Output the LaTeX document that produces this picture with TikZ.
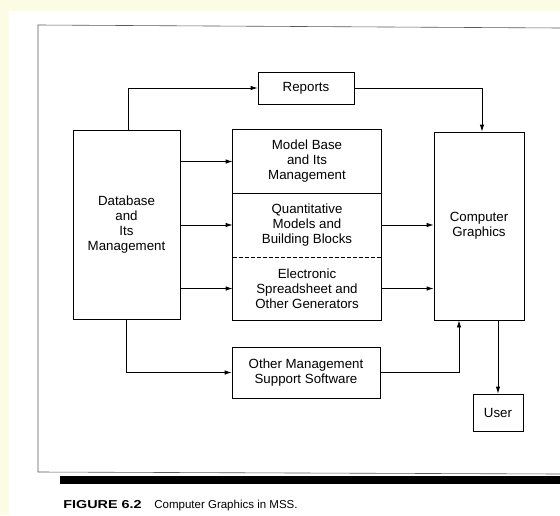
\documentclass[tikz,border=0pt]{standalone}
\usepackage{fontspec}
\setmainfont{Liberation Sans}
\usepackage{graphicx}
\usepackage{tikz}
\usetikzlibrary{arrows.meta}
\definecolor{pagebg}{RGB}{252,252,228}
\definecolor{framegray}{RGB}{90,90,90}

\begin{document}
\begin{tikzpicture}[x=1pt,y=-1pt,line width=0.8pt,
    block/.style={rectangle, draw, align=center, inner sep=0pt,
                  font=\fontsize{13.3}{15}\selectfont},
    part/.style={block, draw=none, minimum width=148pt},
    arr/.style={-{Latex[length=7pt,width=4.5pt]}}]
    \useasboundingbox (0,0) rectangle (560,515);
    \fill[pagebg] (0,0) rectangle (560,515);
    \fill[white] (9,11) rectangle (560,515);
    \draw[framegray, line width=0.6pt] (561,28) -- (38,25) -- (38,472) -- (561,474);
    \fill[black] (60,476) rectangle (561,484);

    \node[block, minimum width=107pt, minimum height=189pt] (db)      at (126.5,224.5) {Database\\and\\Its\\Management};
    \node[block, minimum width=96pt,  minimum height=32pt]  (reports) at (306,88) {Reports};
    \node[part,  minimum height=63pt]                       (model)   at (307,161.5) {Model Base\\and Its\\Management};
    \node[part,  minimum height=64pt]                       (quant)   at (307,225) {Quantitative\\Models and\\Building Blocks};
    \node[part,  minimum height=63pt]                       (sheet)   at (307,288.5) {Electronic\\Spreadsheet and\\Other Generators};
    \node[block, minimum width=90pt,  minimum height=188pt] (cg)      at (479,226) {Computer\\Graphics};
    \node[block, minimum width=148pt, minimum height=51pt]  (other)   at (306,372.5) {Other Management\\Support Software};
    \node[block, minimum width=50pt,  minimum height=37pt]  (user)    at (498,412.5) {User};

    \draw (model.north west) rectangle (sheet.south east);
    \draw (model.south west) -- (model.south east);
    \draw[dashed, dash pattern=on 4pt off 2pt] (quant.south west) -- (quant.south east);

    \draw[arr] ([xshift=1.5pt]db.north) |- (reports.west);
    \draw[arr] (reports.east) -| ([xshift=3pt]cg.north);
    \draw[arr] (db.east |- model.west) -- (model.west);
    \draw[arr] (db.east |- quant.west) -- (quant.west);
    \draw[arr] (db.east |- sheet.west) -- (sheet.west);
    \draw[arr] (quant.east) -- (quant.east -| cg.west);
    \draw[arr] (sheet.east) -- (sheet.east -| cg.west);
    \draw[arr] (db.south) |- (other.west);
    \draw[arr] (other.east) -| ([xshift=-20pt]cg.south);
    \draw[arr] (user.north |- cg.south) -- (user.north);

    \node[anchor=base west, inner sep=0pt] (figno)   at (63,508)  {\fontsize{11.5}{13}\selectfont\scalebox{1.25}[1]{\bfseries FIGURE 6.2}};
    \node[anchor=base west, inner sep=0pt] (figtext) at (154,508) {\fontsize{11.5}{13}\selectfont Computer Graphics in MSS.};
\end{tikzpicture}
\end{document}
